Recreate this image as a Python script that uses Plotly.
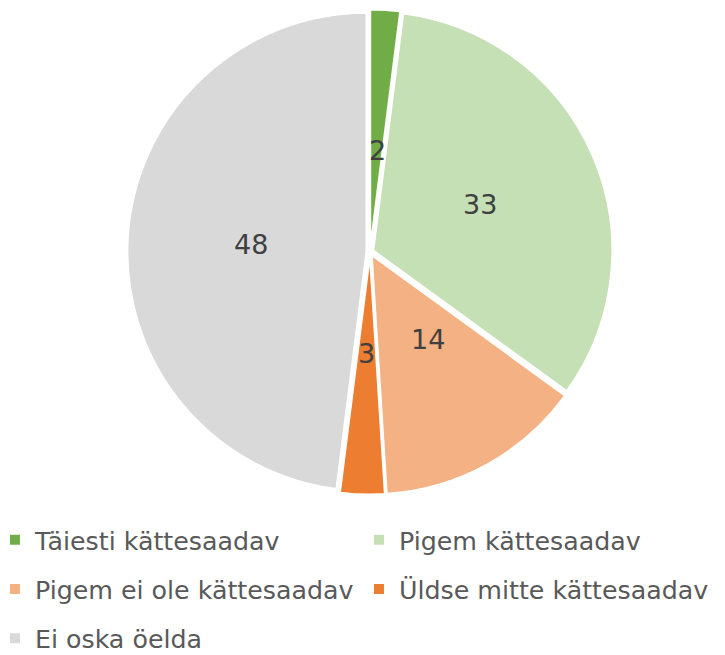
import math
import plotly.graph_objects as go

labels = ["Täiesti kättesaadav", "Pigem kättesaadav", "Pigem ei ole kättesaadav",
          "Üldse mitte kättesaadav", "Ei oska öelda"]
values = [2, 33, 14, 3, 48]
colors = ["#70AD47", "#C5E0B4", "#F4B183", "#ED7D31", "#D9D9D9"]

W, H = 725, 655
BOTTOM = 165                 # bottom margin reserved for the legend
GW, GH = W, H - BOTTOM        # plot area size
CX, CY, R = 362, 244, 239     # pie centre/radius in plot-area pixels
PULL = 0.015
RE = R * (1 + PULL)


def fx(px):
    return px / GW


def fy(py):
    return 1 - py / GH


fig = go.Figure(go.Pie(
    labels=[f"<span style='font-size:25.3px;baseline-shift:4px'>{l}</span>" for l in labels],
    values=values, sort=False, direction="clockwise", rotation=0,
    marker=dict(colors=colors, line=dict(color="white", width=2)),
    pull=[PULL] * len(values),
    textinfo="none",
    domain=dict(x=[fx(CX - RE), fx(CX + RE)], y=[fy(CY + RE), fy(CY - RE)]),
    customdata=labels,
    hovertemplate="%{customdata}: %{value}<extra></extra>",
))

# data labels at half radius along each slice's bisector
total = sum(values)
cum = 0
annotations = []
for v in values:
    mid = (cum + v / 2) / total * 2 * math.pi
    cum += v
    x = CX + 0.5 * R * math.sin(mid)
    y = CY - 0.5 * R * math.cos(mid)
    annotations.append(dict(x=fx(x), y=fy(y), xref="paper", yref="paper",
                            text=str(v), showarrow=False,
                            font=dict(family="DejaVu Sans", size=27, color="#404040")))

fig.update_layout(
    width=W, height=H, margin=dict(l=0, r=0, t=0, b=BOTTOM, autoexpand=False),
    paper_bgcolor="white", plot_bgcolor="white",
    annotations=annotations,
    legend=dict(orientation="h", x=-0.018, xanchor="left", y=fy(502), yanchor="top",
                entrywidth=319, entrywidthmode="pixels",
                font=dict(family="DejaVu Sans", size=35.6, color="#595959"),
                itemclick=False),
)
fig.write_html("out.html")
